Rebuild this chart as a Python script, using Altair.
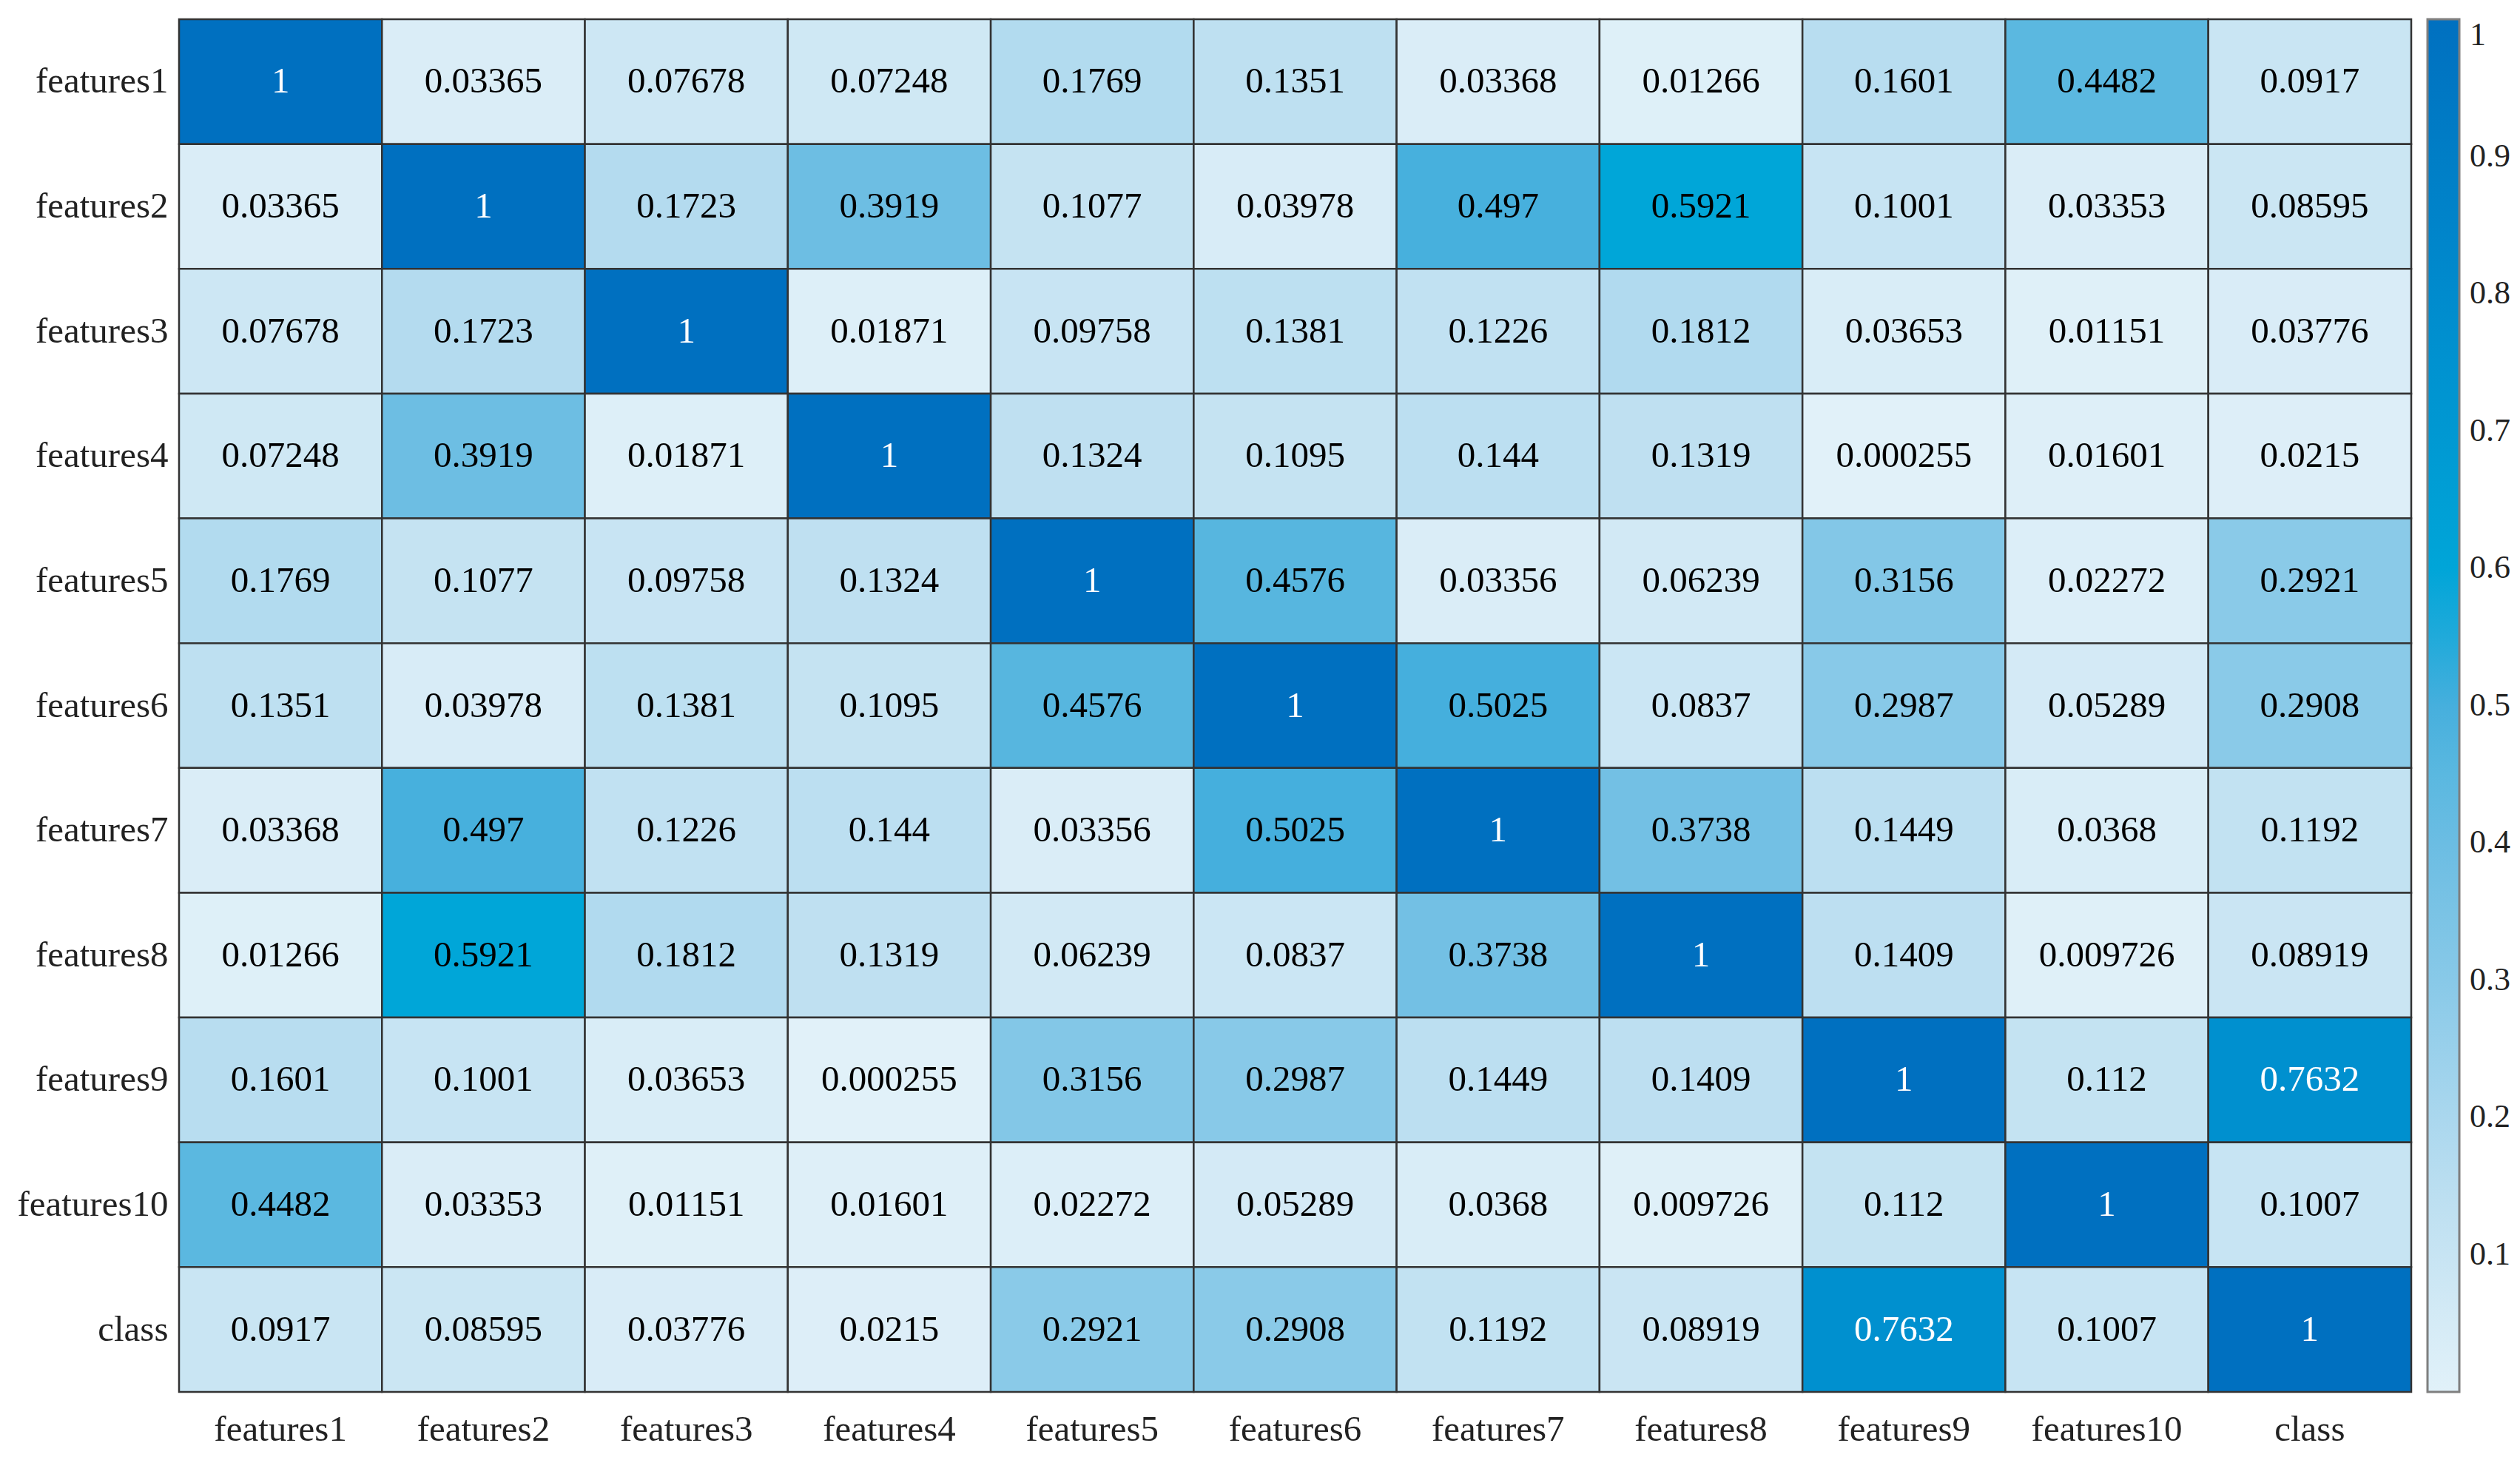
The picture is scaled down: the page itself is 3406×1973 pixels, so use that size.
import altair as alt
import pandas as pd

labels = ["features1", "features2", "features3", "features4", "features5",
          "features6", "features7", "features8", "features9", "features10", "class"]

r_f1 = [1, 0.03365, 0.07678, 0.07248, 0.1769, 0.1351, 0.03368, 0.01266, 0.1601, 0.4482, 0.0917]
r_f2 = [0.03365, 1, 0.1723, 0.3919, 0.1077, 0.03978, 0.497, 0.5921, 0.1001, 0.03353, 0.08595]
r_f3 = [0.07678, 0.1723, 1, 0.01871, 0.09758, 0.1381, 0.1226, 0.1812, 0.03653, 0.01151, 0.03776]
r_f4 = [0.07248, 0.3919, 0.01871, 1, 0.1324, 0.1095, 0.144, 0.1319, 0.000255, 0.01601, 0.0215]
r_f5 = [0.1769, 0.1077, 0.09758, 0.1324, 1, 0.4576, 0.03356, 0.06239, 0.3156, 0.02272, 0.2921]
r_f6 = [0.1351, 0.03978, 0.1381, 0.1095, 0.4576, 1, 0.5025, 0.0837, 0.2987, 0.05289, 0.2908]
r_f7 = [0.03368, 0.497, 0.1226, 0.144, 0.03356, 0.5025, 1, 0.3738, 0.1449, 0.0368, 0.1192]
r_f8 = [0.01266, 0.5921, 0.1812, 0.1319, 0.06239, 0.0837, 0.3738, 1, 0.1409, 0.009726, 0.08919]
r_f9 = [0.1601, 0.1001, 0.03653, 0.000255, 0.3156, 0.2987, 0.1449, 0.1409, 1, 0.112, 0.7632]
r_f10 = [0.4482, 0.03353, 0.01151, 0.01601, 0.02272, 0.05289, 0.0368, 0.009726, 0.112, 1, 0.1007]
r_class = [0.0917, 0.08595, 0.03776, 0.0215, 0.2921, 0.2908, 0.1192, 0.08919, 0.7632, 0.1007, 1]

rows = [r_f1, r_f2, r_f3, r_f4, r_f5, r_f6, r_f7, r_f8, r_f9, r_f10, r_class]
legend_ticks = [0.1, 0.2, 0.3, 0.4, 0.5, 0.6, 0.7, 0.8, 0.9, 1]

records = []
for i, row in enumerate(rows):
    for j, v in enumerate(row):
        records.append({"row": labels[i], "col": labels[j], "value": v,
                        "label": "%.4g" % v})
df = pd.DataFrame(records)

# colour stops (style)
c_domain = [0.000255, 0.0335, 0.0917, 0.16, 0.2921, 0.3738, 0.4482, 0.5025, 0.5921, 0.7632, 1.0]
c_range = ["#E1F1F9", "#DAEDF7", "#C9E5F3", "#B8DDF0", "#8ACAE8", "#73C0E4",
           "#5BB8E0", "#45AFDD", "#00A6D8", "#0090CF", "#0070C0"]

FONT = "Liberation Serif"

base = alt.Chart(df).encode(
    x=alt.X("col:N", sort=labels, title=None,
            axis=alt.Axis(labelAngle=0, labelFont=FONT, labelFontSize=49,
                          labelColor="#222222", ticks=False, domain=False,
                          labelPadding=26, labelLimit=0)),
    y=alt.Y("row:N", sort=labels, title=None,
            axis=alt.Axis(labelFont=FONT, labelFontSize=49, labelColor="#222222",
                          ticks=False, domain=False, labelPadding=15, labelLimit=0)),
)

rects = base.mark_rect(stroke="#333333", strokeWidth=2.5).encode(
    color=alt.Color("value:Q",
                    scale=alt.Scale(domain=c_domain, range=c_range, interpolate="rgb"),
                    legend=alt.Legend(title=None, orient="right", direction="vertical",
                                      gradientLength=1855, gradientThickness=43,
                                      gradientStrokeColor="#7f7f7f", gradientStrokeWidth=3,
                                      values=legend_ticks, format="~g",
                                      labelFont=FONT, labelFontSize=44, labelColor="#222222",
                                      labelOffset=14, offset=22, padding=0, labelLimit=0))
)

texts = base.mark_text(font=FONT, fontSize=49, baseline="middle", align="center").encode(
    text="label:N",
    color=alt.condition(alt.datum.value > 0.7, alt.value("white"), alt.value("black")),
)

chart = (rects + texts).properties(
    width=3017, height=1855,
    padding={"left": 14, "top": 16, "right": 4, "bottom": 4},
).configure_view(stroke="#7f7f7f", strokeWidth=3).configure(background="white")

chart.save("out.html", embed_options={"renderer": "svg", "actions": False})
